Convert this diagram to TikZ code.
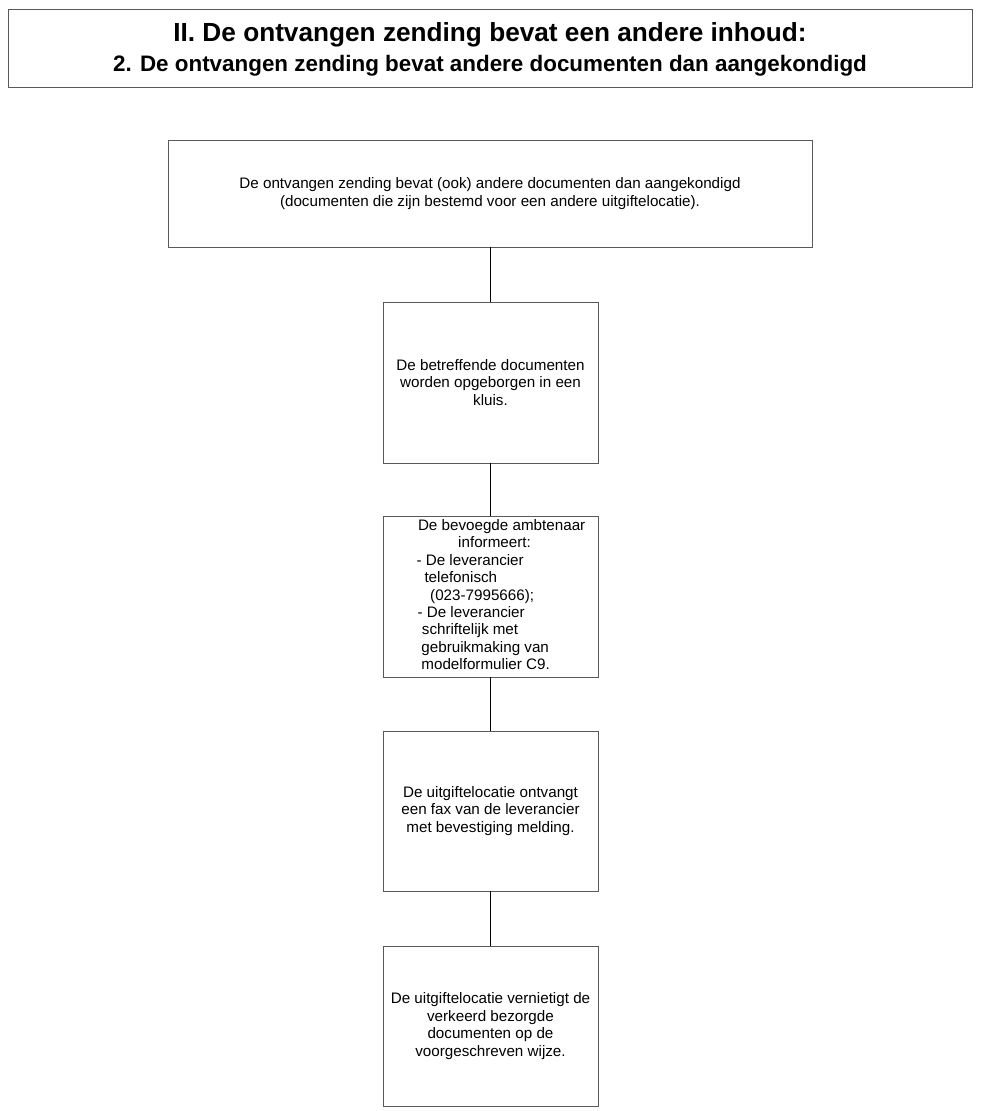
\documentclass[tikz,border=0pt]{standalone}
\usepackage{fontspec}
\setmainfont{Liberation Sans}
\begin{document}
\begin{tikzpicture}[x=1pt,y=-1pt,
  box/.style={draw=black!65, line width=0.8pt, fill=white, inner sep=0pt, align=center},
  txt/.style={font=\fontsize{15.2}{17.4}\selectfont, align=center},
  line/.style={font=\fontsize{15.2}{17.4}\selectfont, anchor=base west, inner sep=0pt},
  conn/.style={draw=black, line width=0.9pt}]
\useasboundingbox (0,0) rectangle (980,1111);
\node[box, minimum width=964pt, minimum height=78pt] (title) at (490,48) {};
\node[font=\bfseries\fontsize{26.2}{30}\selectfont, anchor=base, inner sep=0pt] (t1) at (490,41.7) {II. De ontvangen zending bevat een andere inhoud:};
\node[font=\bfseries\fontsize{22.4}{26}\selectfont, anchor=base, inner sep=0pt] (t2) at (490,71.7) {2. De ontvangen zending bevat andere documenten dan aangekondigd};

\node[box, minimum width=644pt, minimum height=107pt, txt] (b1) at (490,193.5) {De ontvangen zending bevat (ook) andere documenten dan aangekondigd\\(documenten die zijn bestemd voor een andere uitgiftelocatie).};
\node[box, minimum width=215pt, minimum height=161pt, txt] (b2) at (490.5,382.5) {De betreffende documenten\\worden opgeborgen in een\\kluis.};
\node[box, minimum width=215pt, minimum height=161pt] (b3) at (490.5,596.5) {};
\node[line] (l1) at (417.8,530.5) {De bevoegde ambtenaar};
\node[line] (l2) at (458,547.8) {informeert:};
\node[line] (l3) at (416.3,565.2) {- De leverancier};
\node[line] (l4) at (424.3,582.6) {telefonisch};
\node[line] (l5) at (430,600) {(023-7995666);};
\node[line] (l6) at (417.3,617.4) {- De leverancier};
\node[line] (l7) at (421.7,634.8) {schriftelijk met};
\node[line] (l8) at (421.2,652.2) {gebruikmaking van};
\node[line] (l9) at (421.2,669.6) {modelformulier C9.};
\node[box, minimum width=215pt, minimum height=160pt, txt] (b4) at (490.5,811) {De uitgiftelocatie ontvangt\\een fax van de leverancier\\met bevestiging melding.};
\node[box, minimum width=215pt, minimum height=160pt, txt] (b5) at (490.5,1026) {De uitgiftelocatie vernietigt de\\verkeerd bezorgde\\documenten op de\\voorgeschreven wijze.};

\draw[conn] (b1.south -| 490,0) -- (b2.north -| 490,0);
\draw[conn] (b2.south -| 490,0) -- (b3.north -| 490,0);
\draw[conn] (b3.south -| 490,0) -- (b4.north -| 490,0);
\draw[conn] (b4.south -| 490,0) -- (b5.north -| 490,0);
\end{tikzpicture}
\end{document}
